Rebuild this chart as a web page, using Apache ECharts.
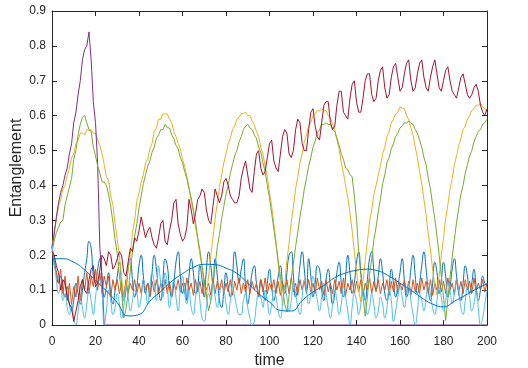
<!DOCTYPE html>
<html>
<head>
<meta charset="utf-8">
<script src="https://cdn.jsdelivr.net/npm/echarts/dist/echarts.min.js"></script>
<style>
  html, body { margin: 0; padding: 0; background: #fff; }
  #main { width: 528px; height: 368px; }
</style>
</head>
<body>
<div id="main"></div>
<script>
// x ticks / y ticks
const xTicks = [0, 20, 40, 60, 80, 100, 120, 140, 160, 180, 200];
const yTicks = [0, 0.1, 0.2, 0.3, 0.4, 0.5, 0.6, 0.7, 0.8, 0.9];

// 每条曲线的取样步长 (time)
const stepFine = 1;
const stepSmooth = 5;

// 深蓝 (振荡)
const blueNoisy = [
  0.22, 0.19, 0.15, 0.12, 0.14, 0.10, 0.08, 0.11, 0.06, 0.04,
  0.07, 0.12, 0.09, 0.06, 0.10, 0.15, 0.19, 0.24, 0.22, 0.14,
  0.12, 0.16, 0.19, 0.13, 0.08, 0.11, 0.15, 0.09, 0.06, 0.10,
  0.14, 0.18, 0.12, 0.07, 0.10, 0.16, 0.19, 0.13, 0.08, 0.11,
  0.17, 0.20, 0.14, 0.09, 0.12, 0.08, 0.15, 0.20, 0.16, 0.10,
  0.07, 0.13, 0.19, 0.17, 0.11, 0.08, 0.12, 0.18, 0.21, 0.14,
  0.09, 0.12, 0.07, 0.14, 0.19, 0.15, 0.09, 0.11, 0.17, 0.13,
  0.08, 0.16, 0.21, 0.17, 0.12, 0.19, 0.14, 0.07, 0.05, 0.10,
  0.15, 0.11, 0.08, 0.14, 0.21, 0.17, 0.12, 0.16, 0.19, 0.11,
  0.06, 0.10, 0.15, 0.17, 0.12, 0.08, 0.13, 0.10, 0.07, 0.12,
  0.16, 0.11, 0.07, 0.10, 0.14, 0.17, 0.12, 0.09, 0.15, 0.20,
  0.21, 0.14, 0.08, 0.11, 0.17, 0.21, 0.16, 0.10, 0.19, 0.14,
  0.08, 0.12, 0.17, 0.16, 0.10, 0.07, 0.13, 0.16, 0.11, 0.06,
  0.09, 0.15, 0.18, 0.12, 0.08, 0.14, 0.20, 0.15, 0.09, 0.12,
  0.18, 0.21, 0.15, 0.10, 0.07, 0.13, 0.19, 0.21, 0.15, 0.10,
  0.14, 0.19, 0.15, 0.09, 0.07, 0.11, 0.16, 0.12, 0.08, 0.11,
  0.15, 0.19, 0.13, 0.08, 0.10, 0.16, 0.20, 0.14, 0.09, 0.12,
  0.17, 0.21, 0.16, 0.10, 0.07, 0.12, 0.18, 0.15, 0.09, 0.13,
  0.18, 0.14, 0.08, 0.11, 0.16, 0.19, 0.14, 0.09, 0.07, 0.12,
  0.17, 0.14, 0.09, 0.12, 0.16, 0.11, 0.07, 0.10, 0.14, 0.12,
  0.11
];

// 橙色
const orange = [
  0.23, 0.17, 0.15, 0.12, 0.16, 0.09, 0.14, 0.07, 0.12, 0.06,
  0.11, 0.08, 0.14, 0.07, 0.13, 0.10, 0.15, 0.09, 0.14, 0.11,
  0.16, 0.10, 0.15, 0.09, 0.14, 0.11, 0.14, 0.08, 0.13, 0.10,
  0.13, 0.09, 0.12, 0.08, 0.13, 0.09, 0.12, 0.10, 0.13, 0.09,
  0.12, 0.09, 0.13, 0.10, 0.12, 0.085, 0.125, 0.095, 0.13, 0.09,
  0.12, 0.10, 0.13, 0.09, 0.125, 0.085, 0.12, 0.10, 0.13, 0.095,
  0.12, 0.09, 0.135, 0.10, 0.12, 0.085, 0.13, 0.095, 0.125, 0.09,
  0.13, 0.10, 0.12, 0.085, 0.135, 0.09, 0.125, 0.10, 0.13, 0.09,
  0.12, 0.095, 0.13, 0.085, 0.125, 0.10, 0.135, 0.09, 0.12, 0.095,
  0.13, 0.09, 0.125, 0.10, 0.12, 0.085, 0.13, 0.095, 0.135, 0.09,
  0.12, 0.10, 0.13, 0.09, 0.125, 0.085, 0.12, 0.10, 0.13, 0.09,
  0.135, 0.095, 0.12, 0.085, 0.13, 0.10, 0.125, 0.09, 0.13, 0.095,
  0.12, 0.09, 0.135, 0.10, 0.125, 0.085, 0.13, 0.095, 0.12, 0.09,
  0.13, 0.10, 0.125, 0.09, 0.135, 0.085, 0.12, 0.10, 0.13, 0.09,
  0.125, 0.095, 0.13, 0.085, 0.12, 0.10, 0.135, 0.09, 0.125, 0.095,
  0.13, 0.09, 0.12, 0.10, 0.13, 0.085, 0.125, 0.095, 0.135, 0.09,
  0.12, 0.10, 0.13, 0.09, 0.125, 0.085, 0.13, 0.095, 0.12, 0.09,
  0.135, 0.10, 0.125, 0.09, 0.13, 0.085, 0.12, 0.10, 0.13, 0.095,
  0.125, 0.09, 0.135, 0.10, 0.12, 0.085, 0.13, 0.095, 0.125, 0.09,
  0.13, 0.10, 0.125, 0.09, 0.135, 0.095, 0.12, 0.10, 0.13, 0.095,
  0.12
];

// 黄色 (带小阶梯波纹)
const yellow = [
  0.22, 0.27, 0.30, 0.34, 0.36, 0.39, 0.40, 0.43, 0.45, 0.48,
  0.49, 0.52, 0.53, 0.55, 0.55, 0.545, 0.56, 0.558, 0.56, 0.55,
  0.55, 0.53, 0.515, 0.49, 0.46, 0.425, 0.415, 0.37, 0.345, 0.29,
  0.245, 0.20, 0.135, 0.07, 0.11, 0.16, 0.20, 0.265, 0.30, 0.355,
  0.38, 0.41, 0.43, 0.465, 0.475, 0.505, 0.52, 0.555, 0.565, 0.59,
  0.59, 0.605, 0.605, 0.605, 0.59, 0.58, 0.555, 0.54, 0.52, 0.505,
  0.475, 0.455, 0.425, 0.395, 0.355, 0.325, 0.28, 0.245, 0.20, 0.165,
  0.12, 0.08, 0.14, 0.20, 0.25, 0.305, 0.35, 0.395, 0.43, 0.465,
  0.49, 0.52, 0.535, 0.56, 0.57, 0.59, 0.595, 0.605, 0.606, 0.61,
  0.60, 0.60, 0.585, 0.575, 0.555, 0.54, 0.51, 0.49, 0.455, 0.425,
  0.38, 0.34, 0.29, 0.24, 0.175, 0.12, 0.056, 0.115, 0.185, 0.235,
  0.295, 0.34, 0.39, 0.425, 0.465, 0.49, 0.525, 0.545, 0.57, 0.58,
  0.60, 0.605, 0.615, 0.613, 0.62, 0.614, 0.615, 0.60, 0.595, 0.575,
  0.56, 0.53, 0.505, 0.465, 0.435, 0.40, 0.365, 0.32, 0.27, 0.21,
  0.155, 0.10, 0.066, 0.125, 0.185, 0.24, 0.295, 0.33, 0.375, 0.40,
  0.43, 0.455, 0.49, 0.51, 0.54, 0.555, 0.58, 0.59, 0.605, 0.61,
  0.625, 0.622, 0.62, 0.60, 0.59, 0.565, 0.545, 0.51, 0.48, 0.44,
  0.405, 0.36, 0.315, 0.26, 0.215, 0.16, 0.115, 0.085, 0.14, 0.20,
  0.25, 0.305, 0.345, 0.39, 0.42, 0.46, 0.485, 0.515, 0.535, 0.56,
  0.57, 0.59, 0.60, 0.615, 0.62, 0.63, 0.63, 0.635, 0.625, 0.62,
  0.61
];

// 紫色 (时间点单独给出)
const purpleTime = [0, 1, 2, 3, 4, 5, 6, 7, 8, 9, 10, 11, 12, 13, 14, 15, 16, 17, 18, 19, 20, 21, 22, 23, 24, 200];
const purple = [
  0.22, 0.26, 0.31, 0.35, 0.38, 0.40, 0.43, 0.45, 0.49, 0.52,
  0.58, 0.61, 0.66, 0.70, 0.76, 0.79, 0.80, 0.84, 0.76, 0.64,
  0.58, 0.46, 0.22, 0.14, 0, 0
];

// 绿色 (带小阶梯波纹)
const green = [
  0.21, 0.24, 0.265, 0.28, 0.295, 0.30, 0.345, 0.37, 0.395, 0.42,
  0.475, 0.50, 0.545, 0.575, 0.595, 0.60, 0.58, 0.56, 0.555, 0.51,
  0.485, 0.455, 0.435, 0.41, 0.41, 0.40, 0.375, 0.34, 0.295, 0.245,
  0.205, 0.14, 0.095, 0.02, 0.045, 0.09, 0.155, 0.21, 0.255, 0.29,
  0.335, 0.37, 0.405, 0.43, 0.455, 0.47, 0.495, 0.51, 0.535, 0.545,
  0.56, 0.56, 0.575, 0.565, 0.565, 0.545, 0.535, 0.515, 0.505, 0.48,
  0.465, 0.44, 0.42, 0.39, 0.365, 0.33, 0.295, 0.25, 0.215, 0.17,
  0.125, 0.08, 0.04, 0.07, 0.125, 0.17, 0.225, 0.26, 0.305, 0.34,
  0.375, 0.40, 0.435, 0.46, 0.485, 0.50, 0.525, 0.54, 0.56, 0.57,
  0.575, 0.565, 0.56, 0.545, 0.535, 0.51, 0.495, 0.465, 0.44, 0.40,
  0.365, 0.32, 0.275, 0.23, 0.185, 0.14, 0.105, 0.06, 0.037, 0.084,
  0.135, 0.177, 0.225, 0.265, 0.31, 0.347, 0.39, 0.42, 0.455, 0.48,
  0.51, 0.527, 0.55, 0.56, 0.575, 0.575, 0.58, 0.575, 0.575, 0.56,
  0.555, 0.535, 0.515, 0.49, 0.475, 0.45, 0.445, 0.43, 0.425, 0.37,
  0.305, 0.21, 0.145, 0.08, 0.025, 0.08, 0.145, 0.19, 0.245, 0.28,
  0.325, 0.36, 0.405, 0.43, 0.465, 0.48, 0.505, 0.52, 0.54, 0.55,
  0.565, 0.57, 0.58, 0.578, 0.585, 0.578, 0.575, 0.56, 0.55, 0.53,
  0.51, 0.48, 0.46, 0.42, 0.39, 0.345, 0.305, 0.255, 0.20, 0.14,
  0.08, 0.013, 0.075, 0.135, 0.195, 0.245, 0.295, 0.335, 0.375, 0.40,
  0.435, 0.46, 0.485, 0.50, 0.525, 0.54, 0.555, 0.56, 0.575, 0.58,
  0.59
];

// 浅蓝
const lightBlue = [
  0.23, 0.18, 0.13, 0.09, 0.11, 0.07, 0.09, 0.05, 0.03, 0.06,
  0.02, 0.0, 0.04, 0.08, 0.05, 0.02, 0.06, 0.10, 0.07, 0.03,
  0.08, 0.12, 0.13, 0.09, 0.0, 0.04, 0.10, 0.07, 0.03, 0.05,
  0.09, 0.06, 0.02, 0.05, 0.11, 0.08, 0.04, 0.07, 0.10, 0.09,
  0.05, 0.08, 0.13, 0.10, 0.06, 0.11, 0.15, 0.12, 0.07, 0.17,
  0.12, 0.08, 0.15, 0.11, 0.05, 0.09, 0.13, 0.08, 0.04, 0.10,
  0.14, 0.09, 0.06, 0.10, 0.05, 0.03, 0.08, 0.12, 0.07, 0.02,
  0.01, 0.05, 0.09, 0.07, 0.12, 0.08, 0.05, 0.09, 0.11, 0.10,
  0.06, 0.03, 0.07, 0.11, 0.08, 0.05, 0.03, 0.03, 0.07, 0.09,
  0.05, 0.02, 0.0, 0.01, 0.06, 0.09, 0.08, 0.05, 0.10, 0.07,
  0.03, 0.06, 0.10, 0.08, 0.04, 0.02, 0.06, 0.11, 0.08, 0.04,
  0.07, 0.12, 0.09, 0.05, 0.03, 0.08, 0.13, 0.10, 0.06, 0.09,
  0.14, 0.11, 0.07, 0.04, 0.08, 0.12, 0.09, 0.05, 0.02, 0.06,
  0.10, 0.07, 0.03, 0.06, 0.11, 0.08, 0.04, 0.0, 0.05, 0.09,
  0.07, 0.03, 0.06, 0.10, 0.07, 0.03, 0.05, 0.09, 0.06, 0.02,
  0.04, 0.08, 0.06, 0.02, 0.05, 0.10, 0.07, 0.01, 0.04, 0.08,
  0.11, 0.08, 0.05, 0.09, 0.12, 0.07, 0.03, 0.0, 0.04, 0.09,
  0.07, 0.04, 0.08, 0.12, 0.09, 0.05, 0.03, 0.07, 0.11, 0.08,
  0.04, 0.07, 0.12, 0.10, 0.06, 0.09, 0.13, 0.10, 0.05, 0.03,
  0.07, 0.11, 0.08, 0.04, 0.06, 0.10, 0.05, 0.0, 0.02, 0.06,
  0.10
];

// 暗红
const darkRed = [
  0.21, 0.20, 0.17, 0.15, 0.10, 0.13, 0.12, 0.08, 0.06, 0.05,
  0.01, 0.04, 0.07, 0.11, 0.13, 0.10, 0.09, 0.13, 0.16, 0.17,
  0.11, 0.12, 0.16, 0.20, 0.19, 0.17, 0.21, 0.20, 0.16, 0.17,
  0.19, 0.21, 0.20, 0.15, 0.14, 0.18, 0.22, 0.21, 0.25, 0.24,
  0.27, 0.31, 0.28, 0.25, 0.27, 0.28, 0.25, 0.23, 0.22, 0.25,
  0.29, 0.30, 0.24, 0.23, 0.27, 0.30, 0.35, 0.36, 0.29, 0.26,
  0.24, 0.25, 0.28, 0.36, 0.33, 0.29, 0.32, 0.36, 0.37, 0.39,
  0.38, 0.33, 0.30, 0.29, 0.34, 0.39, 0.37, 0.35, 0.37, 0.41,
  0.42, 0.40, 0.37, 0.36, 0.35, 0.35, 0.37, 0.42, 0.45, 0.47,
  0.43, 0.39, 0.38, 0.44, 0.49, 0.50, 0.45, 0.43, 0.44, 0.48,
  0.52, 0.53, 0.47, 0.45, 0.44, 0.49, 0.54, 0.56, 0.55, 0.49,
  0.48, 0.50, 0.56, 0.59, 0.58, 0.52, 0.50, 0.50, 0.56, 0.61,
  0.62, 0.57, 0.54, 0.53, 0.58, 0.63, 0.64, 0.64, 0.58, 0.56,
  0.57, 0.63, 0.67, 0.67, 0.61, 0.60, 0.59, 0.65, 0.69, 0.70,
  0.64, 0.61, 0.61, 0.65, 0.70, 0.72, 0.72, 0.66, 0.64, 0.65,
  0.70, 0.73, 0.74, 0.68, 0.65, 0.66, 0.71, 0.74, 0.75, 0.71,
  0.67, 0.68, 0.72, 0.75, 0.76, 0.70, 0.67, 0.68, 0.72, 0.75,
  0.76, 0.71, 0.68, 0.67, 0.71, 0.74, 0.76, 0.72, 0.68, 0.67,
  0.70, 0.73, 0.74, 0.70, 0.67, 0.66, 0.65, 0.68, 0.71, 0.72,
  0.69, 0.66, 0.65, 0.66, 0.68, 0.69, 0.67, 0.63, 0.61, 0.60,
  0.62
];

// 蓝色 (平滑慢变), 每 5 个时间单位一个点
const blueSmooth = [
  0.19, 0.19, 0.18, 0.158, 0.128, 0.098, 0.064, 0.026, 0.03, 0.068,
  0.096, 0.125, 0.147, 0.165, 0.174, 0.173, 0.163, 0.148, 0.12, 0.09,
  0.066, 0.042, 0.04, 0.07, 0.095, 0.113, 0.136, 0.149, 0.157, 0.16,
  0.155, 0.14, 0.12, 0.10, 0.078, 0.06, 0.052, 0.068, 0.085, 0.103,
  0.118
];

function toPairs(vals, step) {
  return vals.map((v, i) => [i * step, v]);
}

let axisColor = '#262626';
let fontFam = 'Liberation Sans, Arial, sans-serif';
let myChart = echarts.init(document.getElementById('main'));

function lineSeries(name, color, data, smooth) {
  return {
    name: name,
    type: 'line',
    data: data,
    symbol: 'none',
    smooth: smooth || false,
    clip: false,
    lineStyle: { color: color, width: 1 },
    itemStyle: { color: color }
  };
}

let tickCommon = {
  inside: true,
  length: 5,
  lineStyle: { color: axisColor }
};

let option = {
  animation: false,
  backgroundColor: '#fff',
  grid: {
    left: 52,
    right: 41,
    top: 11,
    bottom: 43,
    containLabel: false,
    outerBoundsMode: 'none'
  },
  xAxis: [
    {
      type: 'value',
      min: xTicks[0],
      max: xTicks[xTicks.length - 1],
      interval: 20,
      name: 'time',
      nameLocation: 'middle',
      nameGap: 25,
      nameTextStyle: { color: axisColor, fontSize: 16, fontFamily: fontFam },
      axisLine: { show: true, onZero: false, lineStyle: { color: axisColor } },
      axisTick: tickCommon,
      axisLabel: { color: axisColor, fontSize: 12, margin: 11, fontFamily: fontFam },
      splitLine: { show: false }
    },
    {
      type: 'value',
      position: 'top',
      min: xTicks[0],
      max: xTicks[xTicks.length - 1],
      interval: 20,
      axisLine: { show: true, onZero: false, lineStyle: { color: axisColor } },
      axisTick: tickCommon,
      axisLabel: { show: false },
      splitLine: { show: false }
    }
  ],
  yAxis: [
    {
      type: 'value',
      min: yTicks[0],
      max: yTicks[yTicks.length - 1],
      interval: 0.1,
      name: 'Entanglement',
      nameLocation: 'middle',
      nameGap: 27,
      nameMoveOverlap: false,
      nameTextStyle: { color: axisColor, fontSize: 16, fontFamily: fontFam },
      axisLine: { show: true, onZero: false, lineStyle: { color: axisColor } },
      axisTick: tickCommon,
      axisLabel: { color: axisColor, fontSize: 12, margin: 6, fontFamily: fontFam },
      splitLine: { show: false }
    },
    {
      type: 'value',
      position: 'right',
      min: yTicks[0],
      max: yTicks[yTicks.length - 1],
      interval: 0.1,
      axisLine: { show: true, onZero: false, lineStyle: { color: axisColor } },
      axisTick: tickCommon,
      axisLabel: { show: false },
      splitLine: { show: false }
    }
  ],
  series: [
    lineSeries('blueNoisy', '#0072BD', toPairs(blueNoisy, stepFine), true),
    lineSeries('orange', '#D95319', toPairs(orange, stepFine)),
    lineSeries('yellow', '#EDB120', toPairs(yellow, stepFine)),
    lineSeries('purple', '#7E2F8E', purpleTime.map((t, i) => [t, purple[i]])),
    lineSeries('green', '#77AC30', toPairs(green, stepFine)),
    lineSeries('lightBlue', '#4DBEEE', toPairs(lightBlue, stepFine), true),
    lineSeries('darkRed', '#A2142F', toPairs(darkRed, stepFine)),
    lineSeries('blueSmooth', '#0072BD', toPairs(blueSmooth, stepSmooth), true)
  ]
};

myChart.setOption(option);
</script>
</body>
</html>
